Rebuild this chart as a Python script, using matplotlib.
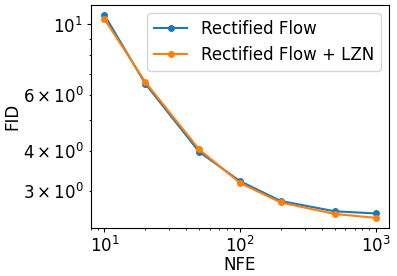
import matplotlib
matplotlib.use("Agg")
import matplotlib.pyplot as plt

nfe = [10, 20, 50, 100, 200, 500, 1000]
fid_rf = [10.7, 6.52, 3.98, 3.22, 2.79, 2.59, 2.55]
fid_lzn = [10.4, 6.6, 4.05, 3.18, 2.76, 2.54, 2.47]

plt.rcParams['font.size'] = 12
plt.rcParams['xtick.major.pad'] = 3
plt.rcParams['ytick.major.pad'] = 3
plt.rcParams['xtick.major.size'] = 3
plt.rcParams['ytick.major.size'] = 3
plt.rcParams['xtick.minor.size'] = 1.7
plt.rcParams['ytick.minor.size'] = 1.7
fig = plt.figure(figsize=(3.97, 2.76), dpi=100)
ax = fig.add_axes([0.229, 0.174, 0.751, 0.808])
ax.plot(nfe, fid_rf, marker='o', markersize=4, label='Rectified Flow')
ax.plot(nfe, fid_lzn, marker='o', markersize=4, label='Rectified Flow + LZN')
ax.set_xscale('log')
ax.set_yscale('log')
ax.set_xlabel('NFE', fontsize=12, labelpad=0)
ax.set_ylabel('FID', fontsize=12, labelpad=1)
ax.legend(loc='upper right', fontsize=12)
fig.savefig('out.png', dpi=100)
